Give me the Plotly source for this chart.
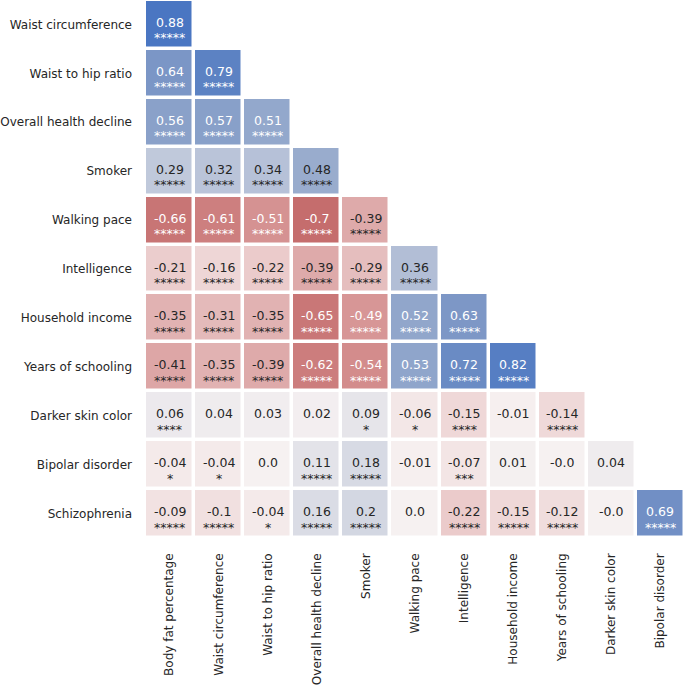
import plotly.graph_objects as go

rows = ["Waist circumference", "Waist to hip ratio", "Overall health decline", "Smoker",
        "Walking pace", "Intelligence", "Household income", "Years of schooling",
        "Darker skin color", "Bipolar disorder", "Schizophrenia"]
cols = ["Body fat percentage", "Waist circumference", "Waist to hip ratio",
        "Overall health decline", "Smoker", "Walking pace", "Intelligence",
        "Household income", "Years of schooling", "Darker skin color", "Bipolar disorder"]

value_labels = [
    ["0.88"],
    ["0.64", "0.79"],
    ["0.56", "0.57", "0.51"],
    ["0.29", "0.32", "0.34", "0.48"],
    ["-0.66", "-0.61", "-0.51", "-0.7", "-0.39"],
    ["-0.21", "-0.16", "-0.22", "-0.39", "-0.29", "0.36"],
    ["-0.35", "-0.31", "-0.35", "-0.65", "-0.49", "0.52", "0.63"],
    ["-0.41", "-0.35", "-0.39", "-0.62", "-0.54", "0.53", "0.72", "0.82"],
    ["0.06", "0.04", "0.03", "0.02", "0.09", "-0.06", "-0.15", "-0.01", "-0.14"],
    ["-0.04", "-0.04", "0.0", "0.11", "0.18", "-0.01", "-0.07", "0.01", "-0.0", "0.04"],
    ["-0.09", "-0.1", "-0.04", "0.16", "0.2", "0.0", "-0.22", "-0.15", "-0.12", "-0.0", "0.69"],
]
star_counts = [
    [5],
    [5, 5],
    [5, 5, 5],
    [5, 5, 5, 5],
    [5, 5, 5, 5, 5],
    [5, 5, 5, 5, 5, 5],
    [5, 5, 5, 5, 5, 5, 5],
    [5, 5, 5, 5, 5, 5, 5, 5],
    [4, 0, 0, 0, 1, 1, 4, 0, 5],
    [1, 1, 0, 5, 5, 0, 3, 0, 0, 0],
    [5, 5, 1, 5, 5, 0, 5, 5, 5, 0, 5],
]

# vlag-like diverging scale (negative red, positive blue), range -1..1
colorscale = [
    [0.0, "#a9373b"],
    [0.15, "#c56d6d"],
    [0.25, "#d69494"],
    [0.325, "#e1b2b2"],
    [0.40, "#eccfcf"],
    [0.5, "#f6f1f1"],
    [0.6, "#d3d7e2"],
    [0.68, "#b2bed6"],
    [0.75, "#95a9cc"],
    [0.82, "#7b96c6"],
    [0.895, "#5c82c3"],
    [0.94, "#4a76c2"],
    [1.0, "#2369bd"],
]

z = []
for i in range(len(rows)):
    r = []
    for j in range(len(cols)):
        r.append(float(value_labels[i][j]) if j < len(value_labels[i]) else None)
    z.append(r)

fig = go.Figure(go.Heatmap(
    z=z, x=cols, y=rows, colorscale=colorscale, zmin=-1, zmax=1,
    showscale=False, xgap=3.5, ygap=3.5, hoverongaps=False,
))

dark = "#262626"
for i, row in enumerate(rows):
    for j, lab in enumerate(value_labels[i]):
        v = float(lab)
        col = "white" if abs(v) >= 0.49 else dark
        fig.add_annotation(x=cols[j], y=row, text=lab, showarrow=False,
                           font=dict(family="DejaVu Sans", size=12.5, color=col),
                           yshift=2, borderpad=0)
        n = star_counts[i][j]
        if n:
            fig.add_annotation(x=cols[j], y=row, text="*" * n, showarrow=False,
                               font=dict(family="DejaVu Sans", size=12.5, color=col),
                               yshift=-13.5, borderpad=0)

fig.update_layout(
    width=685, height=685,
    margin=dict(l=145, r=0, t=0, b=145),
    plot_bgcolor="white", paper_bgcolor="white",
    font=dict(family="DejaVu Sans", size=12, color=dark),
)
fig.update_xaxes(type="category", categoryorder="array", categoryarray=cols,
                 tickangle=-90, showgrid=False, zeroline=False, showline=False,
                 ticks="", ticklabelstandoff=12, tickfont=dict(size=12, color=dark))
fig.update_yaxes(type="category", categoryorder="array", categoryarray=rows,
                 autorange="reversed", showgrid=False, zeroline=False, showline=False,
                 ticks="", ticklabelstandoff=12, tickfont=dict(size=12, color=dark))

fig.write_html("out.html", config={"displayModeBar": False},
               post_script="document.body.style.margin='0';")
